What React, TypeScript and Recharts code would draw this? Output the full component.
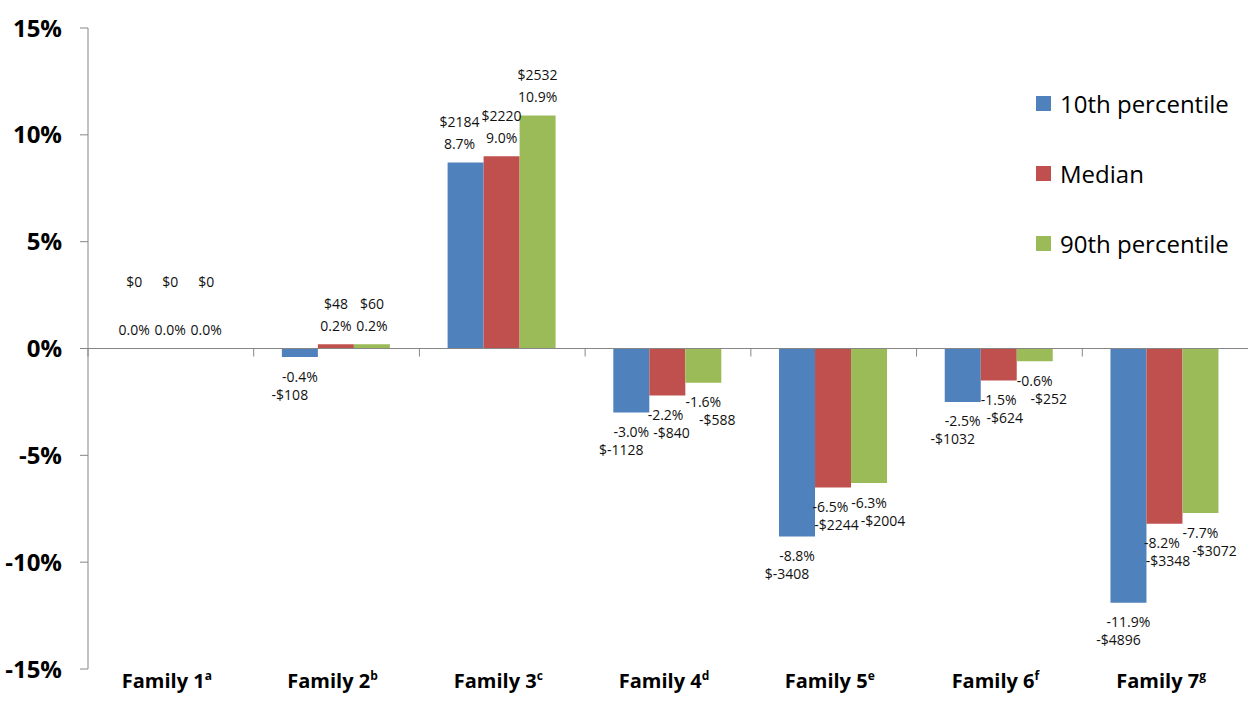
import { Bar, BarChart, Rectangle, ReferenceLine, XAxis, YAxis } from "recharts";

const families = ["Family 1", "Family 2", "Family 3", "Family 4", "Family 5", "Family 6", "Family 7"];
const footnotes = ["a", "b", "c", "d", "e", "f", "g"];

// percent change per family
const p10 = [0, -0.4, 8.7, -3.0, -8.8, -2.5, -11.9];
const median = [0, 0.2, 9.0, -2.2, -6.5, -1.5, -8.2];
const p90 = [0, 0.2, 10.9, -1.6, -6.3, -0.6, -7.7];

// dollar labels as printed on the chart
const p10Dollars = ["$0", "-$108", "$2184", "$-1128", "$-3408", "-$1032", "-$4896"];
const medianDollars = ["$0", "$48", "$2220", "-$840", "-$2244", "-$624", "-$3348"];
const p90Dollars = ["$0", "$60", "$2532", "-$588", "-$2004", "-$252", "-$3072"];

const yTicks = [-15, -10, -5, 0, 5, 10, 15];
const Y_MIN = -15;
const Y_MAX = 15;

const BLUE = "#4F81BD";
const RED = "#C0504D";
const GREEN = "#9BBB59";
const AXIS = "#868686";
const FONT = "'Open Sans', sans-serif";
const LABEL_SIZE = 14;

const W = 1248;
const H = 715;
const X_AXIS_H = 46;
const MARGIN = { top: 28, right: 0, bottom: 0, left: 0 };
const Y_AXIS_W = 88;
const PLOT_H = H - MARGIN.top - X_AXIS_H;
const ZERO_Y = MARGIN.top + (PLOT_H * Y_MAX) / (Y_MAX - Y_MIN);
const BAND = (W - Y_AXIS_W - MARGIN.right) / families.length;

// dx of the dollar line under negative bars (the Excel labels sit a bit askew)
const series = [
  { key: "p10", name: "10th percentile", color: BLUE, values: p10, dollars: p10Dollars, dollarDx: -10 },
  { key: "median", name: "Median", color: RED, values: median, dollars: medianDollars, dollarDx: 6 },
  { key: "p90", name: "90th percentile", color: GREEN, values: p90, dollars: p90Dollars, dollarDx: 14 },
];

const data = families.map((name, i) => ({
  name,
  p10: p10[i],
  median: median[i],
  p90: p90[i],
}));

const yOf = (v: number) => ZERO_Y - (v * PLOT_H) / (Y_MAX - Y_MIN);

const CHAR_W: Record<string, number> = { "-": 0.322, ".": 0.266, "%": 0.823 };
const textW = (t: string) => [...t].reduce((w, c) => w + (CHAR_W[c] ?? 0.572), 0) * LABEL_SIZE;

function FamilyTick(props: any) {
  const { x, y, payload, index } = props;
  return (
    <g>
      <line x1={x - BAND / 2} x2={x - BAND / 2} y1={ZERO_Y} y2={ZERO_Y + 8} stroke={AXIS} />
      <text x={x - 4} y={y + 19} textAnchor="middle" fontFamily={FONT} fontWeight={700} fontSize={20} fill="#000">
        <tspan>{payload.value}</tspan>
        <tspan dy={-8} fontSize={12}>{footnotes[index]}</tspan>
      </text>
    </g>
  );
}

type Line = { t: string; x: number; y: number };

// the last series of each group draws the labels of the whole group,
// so the text stays on top of the neighbouring bars
function makeShape(seriesIndex: number) {
  const last = seriesIndex === series.length - 1;
  return (props: any) => {
    const { x, y, width, height, fill, payload } = props;
    const i = families.indexOf(payload?.name);
    const groups: Line[][] = [];
    if (last) {
      series.forEach((s, k) => {
        const v = s.values[i];
        const cx = Number(x) - (seriesIndex - k) * Number(width) + Number(width) / 2;
        const end = yOf(v);
        const pct = `${v.toFixed(1)}%`;
        if (v < 0) {
          groups.push([
            { t: pct, x: cx, y: end + 19 },
            { t: s.dollars[i], x: cx + s.dollarDx, y: end + 37 },
          ]);
        } else {
          groups.push([
            { t: pct, x: cx, y: end - 19 },
            { t: s.dollars[i], x: cx, y: v === 0 ? end - 67 : end - 41 },
          ]);
        }
      });
      // push a label left when it runs into its right-hand neighbour
      for (let k = groups.length - 2; k >= 0; k--) {
        let shift = 0;
        for (const a of groups[k]) {
          for (const b of groups[k + 1]) {
            if (Math.abs(a.y - b.y) >= 15) continue;
            const over = a.x + textW(a.t) / 2 - (b.x - textW(b.t) / 2) + 2;
            if (over > shift) shift = over;
          }
        }
        groups[k].forEach((l) => (l.x -= shift));
      }
    }
    return (
      <g>
        <Rectangle x={x} y={y} width={width} height={height} fill={fill} />
        {groups.flat().map((l, k) => (
          <text
            key={k}
            x={l.x}
            y={l.y}
            textAnchor="middle"
            dominantBaseline="central"
            fontFamily={FONT}
            fontSize={LABEL_SIZE}
            fill="#111"
          >
            {l.t}
          </text>
        ))}
      </g>
    );
  };
}

function LegendBox() {
  return (
    <div style={{ position: "absolute", left: 1036, top: 88, fontFamily: FONT, fontSize: 24, color: "#000" }}>
      {series.map((s) => (
        <div key={s.key} style={{ display: "flex", alignItems: "center", height: 30, marginBottom: 40 }}>
          <span style={{ width: 15, height: 15, background: s.color, display: "inline-block", marginRight: 9 }} />
          <span>{s.name}</span>
        </div>
      ))}
    </div>
  );
}

export default function App() {
  return (
    <div style={{ position: "absolute", left: 0, top: 0, width: W, height: H, background: "#fff" }}>
      <BarChart width={W} height={H} data={data} margin={MARGIN} barCategoryGap="17%" barGap={0}>
        <YAxis
          width={Y_AXIS_W}
          domain={[Y_MIN, Y_MAX]}
          ticks={yTicks}
          allowDataOverflow
          tickFormatter={(v) => `${v}%`}
          tick={{ fontFamily: FONT, fontWeight: 700, fontSize: 24, fill: "#000" }}
          axisLine={{ stroke: AXIS }}
          tickLine={{ stroke: AXIS }}
          tickSize={8}
          tickMargin={18}
        />
        <XAxis
          dataKey="name"
          axisLine={false}
          tickLine={false}
          tickSize={0}
          tickMargin={0}
          height={X_AXIS_H}
          interval={0}
          tick={<FamilyTick />}
        />
        <ReferenceLine y={0} stroke={AXIS} />
        {series.map((s, k) => (
          <Bar
            key={s.key}
            dataKey={s.key}
            name={s.name}
            fill={s.color}
            isAnimationActive={false}
            shape={makeShape(k)}
          />
        ))}
      </BarChart>
      <LegendBox />
    </div>
  );
}
